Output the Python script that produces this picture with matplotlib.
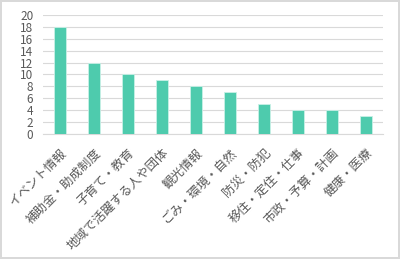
import matplotlib.pyplot as plt
import numpy as np

plt.rcParams['font.family'] = ['Noto Sans CJK JP', 'DejaVu Sans']

categories = ["イベント情報", "補助金・助成制度", "子育て・教育", "地域で活躍する人や団体", "観光情報",
              "ごみ・環境・自然", "防災・防犯", "移住・定住・仕事", "市政・予算・計画", "健康・医療"]
counts = [18, 12, 10, 9, 8, 7, 5, 4, 4, 3]

fig = plt.figure(figsize=(4, 2.59), dpi=100)
fig.patch.set_edgecolor("#d9d9d9")
fig.patch.set_linewidth(1.5)
ax = fig.add_axes([0.1075, 0.483, 0.85, 0.459])

x = np.arange(len(categories))
ax.bar(x, counts, width=0.33, color="#4ecbad", edgecolor="#c8f0e6", linewidth=0.6, zorder=3)

ax.set_ylim(0, 20)
ax.set_yticks(range(0, 21, 2))
ax.set_xlim(-0.5, len(categories) - 0.5)
ax.set_xticks(x)
ax.set_xticklabels(categories, rotation=45, ha="right", rotation_mode="anchor",
                   fontsize=9, color="#595959")
ax.tick_params(axis="y", labelsize=8.5, labelcolor="#595959", length=0, pad=7)
ax.tick_params(axis="x", length=0, pad=9)
ax.grid(axis="y", color="#d9d9d9", linewidth=0.8, zorder=0)
for s in ["top", "right", "left"]:
    ax.spines[s].set_visible(False)
ax.spines["bottom"].set_color("#d9d9d9")

fig.savefig("out.png", dpi=100)
